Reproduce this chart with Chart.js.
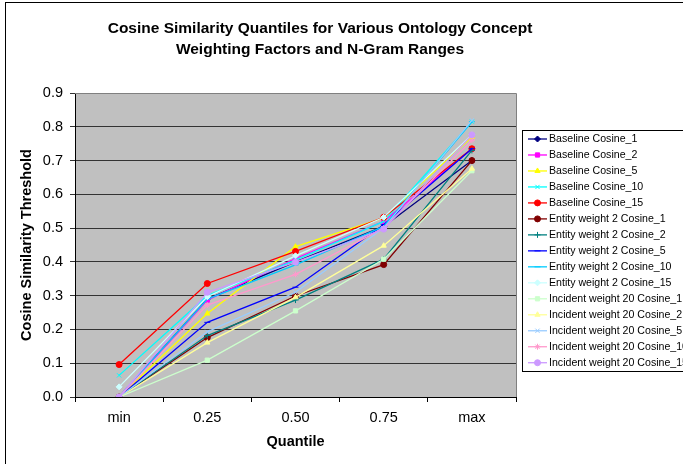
<!DOCTYPE html>
<html>
<head>
<meta charset="utf-8">
<script src="https://cdn.jsdelivr.net/npm/chart.js@4/dist/chart.umd.min.js"></script>
<style>
html,body{margin:0;padding:0;background:#fff;}
#wrap{width:683px;height:464px;position:relative;}
</style>
</head>
<body>
<div id="wrap"><canvas id="c"></canvas></div>
<script>
const categories = ['min', '0.25', '0.50', '0.75', 'max'];
const yTicks = [0, 0.1, 0.2, 0.3, 0.4, 0.5, 0.6, 0.7, 0.8, 0.9];

const seriesNames = [
  'Baseline Cosine_1', 'Baseline Cosine_2', 'Baseline Cosine_5', 'Baseline Cosine_10', 'Baseline Cosine_15',
  'Entity weight 2 Cosine_1', 'Entity weight 2 Cosine_2', 'Entity weight 2 Cosine_5', 'Entity weight 2 Cosine_10', 'Entity weight 2 Cosine_15',
  'Incident weight 20 Cosine_1', 'Incident weight 20 Cosine_2', 'Incident weight 20 Cosine_5', 'Incident weight 20 Cosine_10', 'Incident weight 20 Cosine_15'
];

const baseline1  = [0.000, 0.290, 0.400, 0.505, 0.700];
const baseline2  = [0.000, 0.287, 0.410, 0.520, 0.735];
const baseline5  = [0.000, 0.247, 0.445, 0.530, 0.770];
const baseline10 = [0.064, 0.300, 0.405, 0.520, 0.815];
const baseline15 = [0.096, 0.336, 0.431, 0.532, 0.735];
const entity1    = [0.000, 0.176, 0.299, 0.392, 0.700];
const entity2    = [0.000, 0.182, 0.287, 0.408, 0.730];
const entity5    = [0.000, 0.221, 0.325, 0.510, 0.735];
const entity10   = [0.000, 0.290, 0.391, 0.505, 0.815];
const entity15   = [0.030, 0.297, 0.418, 0.532, 0.776];
const incident1  = [0.000, 0.109, 0.255, 0.408, 0.670];
const incident2  = [0.000, 0.161, 0.295, 0.448, 0.676];
const incident5  = [0.000, 0.193, 0.310, 0.500, 0.819];
const incident10 = [0.000, 0.272, 0.363, 0.500, 0.760];
const incident15 = [0.000, 0.310, 0.399, 0.497, 0.776];

const seriesValues = [baseline1, baseline2, baseline5, baseline10, baseline15,
  entity1, entity2, entity5, entity10, entity15,
  incident1, incident2, incident5, incident10, incident15];

const seriesColors = ['#000080', '#FF00FF', '#FFFF00', '#00FFFF', '#FF0000',
  '#800000', '#008080', '#0000FF', '#00CCFF', '#CCFFFF',
  '#CCFFCC', '#FFFF99', '#99CCFF', '#FF99CC', '#CC99FF'];
const seriesMarkers = ['rectRot', 'rect', 'triangle', 'crossRot', 'circle',
  'circle', 'cross', 'line', 'line', 'rectRot',
  'rect', 'triangle', 'crossRot', 'star', 'circle'];

const titleLines = ['Cosine Similarity Quantiles for Various Ontology Concept', 'Weighting Factors and N-Gram Ranges'];
const FONT = '"Liberation Sans", Arial, sans-serif';

const datasets = seriesNames.map((name, i) => ({
  label: name,
  data: seriesValues[i],
  borderColor: seriesColors[i],
  backgroundColor: seriesColors[i],
  pointBorderColor: seriesColors[i],
  pointBackgroundColor: seriesColors[i],
  pointStyle: seriesMarkers[i],
  pointRadius: 3,
  pointBorderWidth: 1,
  borderWidth: 1.3,
  tension: 0,
  order: seriesNames.length - i
}));

const decor = {
  id: 'decor',
  beforeDraw(chart) {
    const {ctx, chartArea: a} = chart;
    ctx.save();
    ctx.fillStyle = '#fff';
    ctx.fillRect(0, 0, chart.width, chart.height);
    ctx.fillStyle = '#C0C0C0';
    ctx.fillRect(a.left, a.top, a.right - a.left, a.bottom - a.top);
    ctx.restore();
  },
  afterDraw(chart) {
    const {ctx, chartArea: a} = chart;
    ctx.save();
    ctx.strokeStyle = '#808080';
    ctx.lineWidth = 1;
    ctx.beginPath();
    ctx.moveTo(a.left, a.top + 0.5);
    ctx.lineTo(a.right + 0.5, a.top + 0.5);
    ctx.lineTo(a.right + 0.5, a.bottom);
    ctx.stroke();
    ctx.strokeStyle = '#000';
    ctx.strokeRect(5.5, 2.5, 700, 500);
    ctx.fillStyle = '#000';
    ctx.font = 'bold 15.5px ' + FONT;
    ctx.textAlign = 'center';
    ctx.textBaseline = 'middle';
    ctx.fillText(titleLines[0], 320, 29);
    ctx.fillText(titleLines[1], 320, 50);
    const lx = 522.5, ly = 130.5, lw = 200, lh = 241;
    ctx.fillStyle = '#fff';
    ctx.fillRect(lx, ly, lw, lh);
    ctx.strokeStyle = '#000';
    ctx.lineWidth = 1;
    ctx.strokeRect(lx, ly, lw, lh);
    ctx.font = '10.6px ' + FONT;
    ctx.textAlign = 'left';
    chart.data.datasets.forEach((ds, i) => {
      const y = 139 + i * 15.98;
      ctx.strokeStyle = ds.borderColor;
      ctx.fillStyle = ds.borderColor;
      ctx.lineWidth = 1.3;
      ctx.beginPath();
      ctx.moveTo(528, y);
      ctx.lineTo(547, y);
      ctx.stroke();
      ctx.lineWidth = 1;
      Chart.helpers.drawPoint(ctx, {pointStyle: ds.pointStyle, radius: 3, rotation: 0, borderWidth: 1}, 537.5, y);
      ctx.fillStyle = '#000';
      ctx.fillText(ds.label, 549, y + 0.5);
    });
    ctx.restore();
  }
};

new Chart(document.getElementById('c'), {
  type: 'line',
  data: {labels: categories, datasets},
  options: {
    responsive: true,
    maintainAspectRatio: false,
    animation: false,
    layout: {padding: {left: 8, top: 93, right: 167, bottom: 0}},
    plugins: {legend: {display: false}, title: {display: false}, tooltip: {enabled: false}},
    scales: {
      x: {
        type: 'category',
        offset: true,
        afterFit: s => { s.height = 67; },
        grid: {offset: true, drawOnChartArea: false, tickLength: 5, color: '#000'},
        border: {color: '#000', width: 1},
        ticks: {color: '#000', padding: 7, font: {family: FONT, size: 14.5}, maxRotation: 0},
        title: {display: true, text: 'Quantile', color: '#000', font: {family: FONT, size: 14.5, weight: 'bold'}, padding: {top: 0, bottom: 13}}
      },
      y: {
        min: 0, max: 0.9,
        afterFit: s => { s.width = 67; },
        afterBuildTicks: s => { s.ticks = yTicks.map(v => ({value: v})); },
        grid: {color: '#333', tickLength: 5, lineWidth: 1},
        border: {color: '#000', width: 1},
        ticks: {color: '#000', padding: 7, font: {family: FONT, size: 14.5}, callback: v => Number(v).toFixed(1)},
        title: {display: true, text: 'Cosine Similarity Threshold', color: '#000', font: {family: FONT, size: 14.5, weight: 'bold'}, padding: {top: 10, bottom: 0}}
      }
    }
  },
  plugins: [decor]
});
</script>
</body>
</html>
